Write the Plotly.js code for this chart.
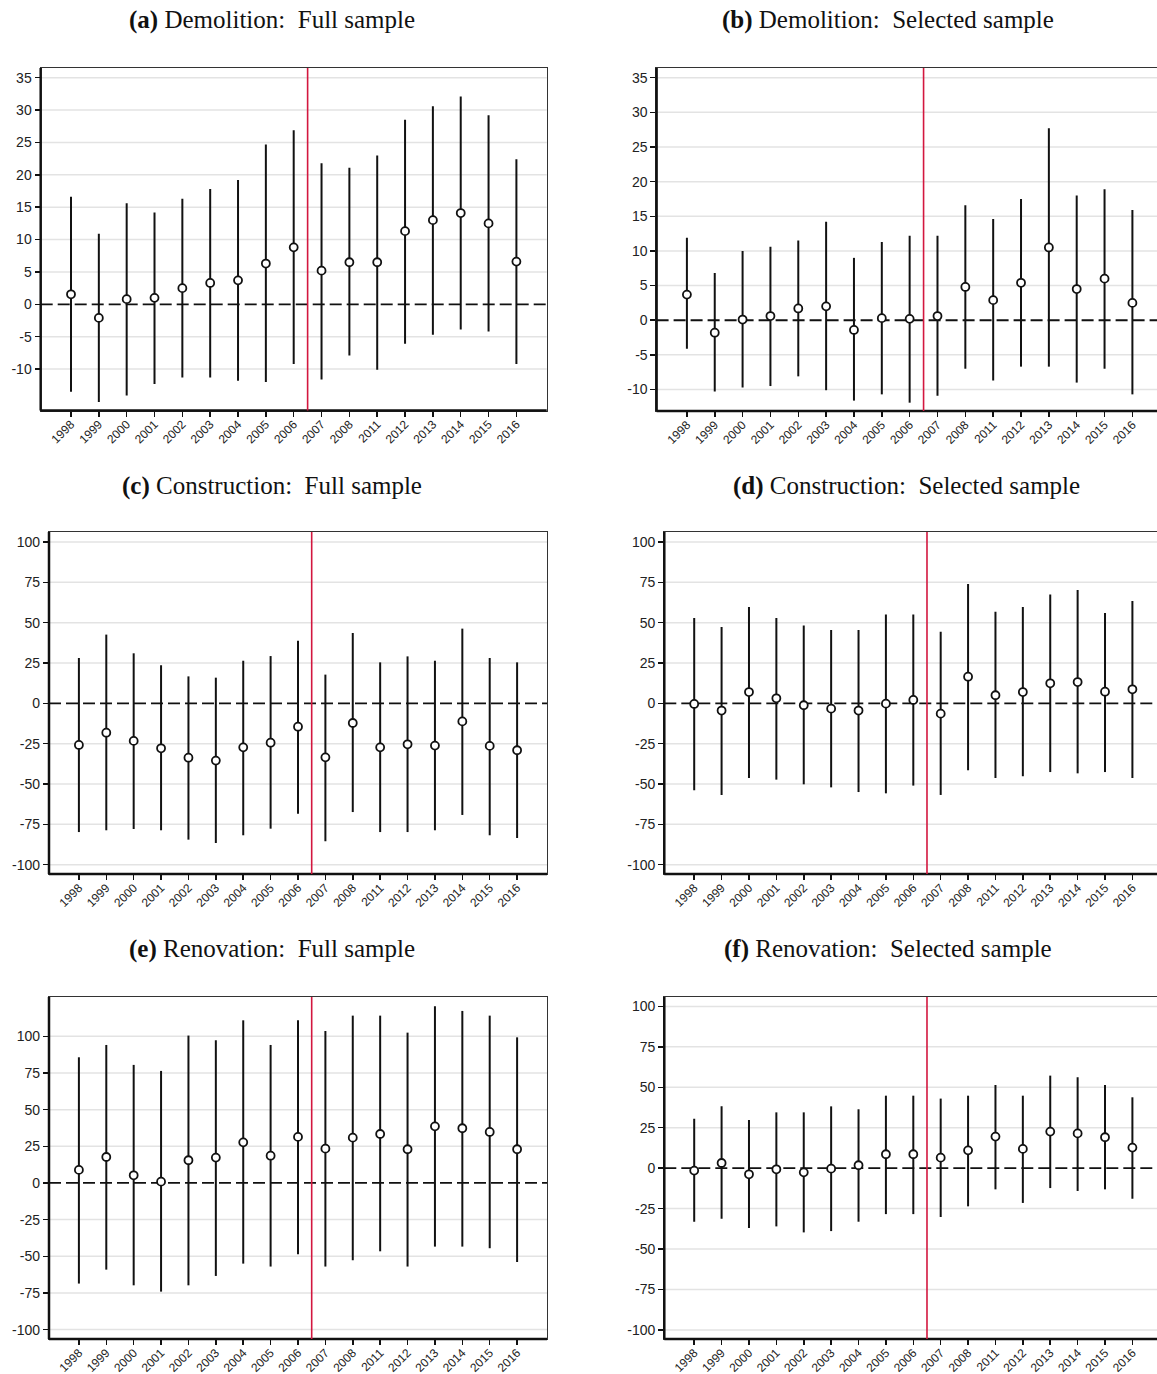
<!DOCTYPE html>
<html><head><meta charset="utf-8">
<script src="https://cdn.plot.ly/plotly-3.0.1.min.js"></script>
<style>html,body{margin:0;padding:0;overflow:hidden;background:#fff}</style>
</head><body><div id="chart" style="width:1165px;height:1374px"></div>
<script>
const years = ['1998','1999','2000','2001','2002','2003','2004','2005','2006','2007','2008','2011','2012','2013','2014','2015','2016'];

// (a) Demolition: Full sample
const demoFullEst = [1.55,-2.1,0.8,1.0,2.5,3.3,3.7,6.3,8.8,5.2,6.5,6.5,11.3,13.0,14.1,12.5,6.6];
const demoFullLo  = [-13.5,-15.1,-14.1,-12.3,-11.3,-11.3,-11.8,-12.0,-9.2,-11.6,-7.9,-10.1,-6.1,-4.7,-3.9,-4.2,-9.2];
const demoFullHi  = [16.6,10.9,15.6,14.2,16.3,17.8,19.2,24.7,26.9,21.8,21.1,23.0,28.5,30.6,32.1,29.2,22.4];

// (b) Demolition: Selected sample
const demoSelEst = [3.7,-1.8,0.1,0.6,1.7,2.0,-1.4,0.3,0.2,0.6,4.8,2.9,5.4,10.5,4.5,6.0,2.5];
const demoSelLo  = [-4.1,-10.3,-9.7,-9.5,-8.1,-10.1,-11.6,-10.7,-11.9,-10.9,-7.0,-8.7,-6.7,-6.7,-9.0,-7.0,-10.7];
const demoSelHi  = [11.9,6.8,10.0,10.6,11.5,14.2,9.0,11.3,12.2,12.2,16.6,14.6,17.5,27.7,18.0,18.9,15.9];

// (c) Construction: Full sample
const consFullEst = [-25.8,-18.2,-23.3,-27.9,-33.7,-35.5,-27.3,-24.4,-14.5,-33.5,-12.2,-27.3,-25.4,-26.2,-11.2,-26.4,-29.1];
const consFullLo  = [-79.8,-78.7,-77.9,-78.7,-84.5,-86.6,-81.8,-77.7,-68.4,-85.5,-67.4,-79.8,-79.8,-78.7,-69.2,-81.8,-83.5];
const consFullHi  = [28.1,42.6,31.0,23.6,16.7,15.9,26.4,29.3,38.8,17.8,43.6,25.4,29.1,26.4,46.3,28.1,25.4];

// (d) Construction: Selected sample
const consSelEst = [-0.4,-4.5,7.0,3.1,-1.2,-3.3,-4.5,-0.2,2.1,-6.4,16.5,5.0,7.0,12.4,13.2,7.2,8.7];
const consSelLo  = [-53.9,-56.8,-46.3,-47.3,-50.2,-52.1,-55.0,-55.8,-51.0,-56.8,-41.5,-46.3,-45.2,-42.6,-43.4,-42.6,-46.3];
const consSelHi  = [52.9,47.3,59.7,52.9,48.3,45.5,45.5,55.0,55.0,44.4,74.0,56.8,59.7,67.4,70.2,56.0,63.4];

// (e) Renovation: Full sample
const renoFullEst = [8.9,17.7,5.2,0.9,15.5,17.3,27.7,18.6,31.4,23.4,30.9,33.4,23.0,38.6,37.3,34.8,23.0];
const renoFullLo  = [-68.6,-59.1,-69.8,-74.1,-69.8,-63.4,-55.0,-57.0,-48.6,-57.0,-52.7,-46.6,-57.0,-43.4,-43.4,-44.5,-53.9];
const renoFullHi  = [85.7,94.1,80.5,76.4,100.5,97.3,110.9,94.1,110.9,103.6,114.1,114.1,102.5,120.5,117.3,114.1,99.3];

// (f) Renovation: Selected sample
const renoSelEst = [-1.5,3.2,-3.8,-0.7,-2.6,-0.3,1.8,8.6,8.6,6.5,11.0,19.5,11.9,22.6,21.5,19.1,12.7];
const renoSelLo  = [-33.1,-31.2,-37.0,-36.0,-39.7,-38.9,-33.1,-28.4,-28.4,-30.2,-23.6,-13.1,-21.5,-12.3,-14.1,-13.1,-18.9];
const renoSelHi  = [30.6,38.2,29.8,34.5,34.5,38.2,36.4,44.8,44.8,43.0,44.8,51.4,44.8,57.2,56.2,51.4,43.8];

const titles = ['(a)','Demolition:  Full sample','(b)','Demolition:  Selected sample','(c)','Construction:  Full sample','(d)','Construction:  Selected sample','(e)','Renovation:  Full sample','(f)','Renovation:  Selected sample'];
const smallTicks = [-10,-5,0,5,10,15,20,25,30,35];
const bigTicks = [-100,-75,-50,-25,0,25,50,75,100];

const W = 1165, H = 1374;
const panels = [
  {est:demoFullEst, lo:demoFullLo, hi:demoFullHi, xd:[40.7,546.7], yd:[68,410.5], range:[-16.4,36.5], ticks:smallTicks, t:0, tx:272, ty:20},
  {est:demoSelEst, lo:demoSelLo, hi:demoSelHi, xd:[656.6,1162.7], yd:[68,411], range:[-13.1,36.4], ticks:smallTicks, t:1, tx:888, ty:20},
  {est:consFullEst, lo:consFullLo, hi:consFullHi, xd:[49,547], yd:[532,874], range:[-105.8,106.2], ticks:bigTicks, t:2, tx:272, ty:486},
  {est:consSelEst, lo:consSelLo, hi:consSelHi, xd:[664.3,1162.3], yd:[532,874], range:[-105.8,106.2], ticks:bigTicks, t:3, tx:906, ty:486},
  {est:renoFullEst, lo:renoFullLo, hi:renoFullHi, xd:[49,547], yd:[997,1339], range:[-106.4,126.8], ticks:bigTicks, t:4, tx:272, ty:949},
  {est:renoSelEst, lo:renoSelLo, hi:renoSelHi, xd:[664.3,1162.3], yd:[997,1339], range:[-105.6,105.8], ticks:bigTicks, t:5, tx:888, ty:949}
];

const data = [];
const layout = {
  width: W, height: H, margin:{l:0,r:0,t:0,b:0},
  paper_bgcolor:'#fff', plot_bgcolor:'#fff', showlegend:false,
  font:{family:'Liberation Sans, Arial, sans-serif', size:14, color:'#222'},
  shapes:[], annotations:[]
};

panels.forEach((p, i) => {
  const n = i + 1;
  const xa = 'x' + (n === 1 ? '' : n), ya = 'y' + (n === 1 ? '' : n);
  const xk = 'xaxis' + (n === 1 ? '' : n), yk = 'yaxis' + (n === 1 ? '' : n);
  data.push({
    type:'scatter', mode:'markers', x:years, y:p.est, xaxis:xa, yaxis:ya,
    marker:{symbol:'circle', size:8, color:'#fff', line:{color:'#111', width:1.8}},
    error_y:{type:'data', symmetric:false,
      array:p.hi.map((h,k)=>h-p.est[k]), arrayminus:p.est.map((e,k)=>e-p.lo[k]),
      width:0, thickness:2, color:'#111'},
    hoverinfo:'skip', cliponaxis:false
  });
  layout[xk] = {
    domain:[p.xd[0]/W, p.xd[1]/W], anchor:ya, type:'category',
    tickangle:-45, ticks:'outside', ticklen:5, tickwidth:1.5, tickcolor:'#111',
    ticklabelstandoff:-4,
    showline:true, mirror:true, linecolor:'#333', linewidth:1.2,
    showgrid:false, zeroline:false, fixedrange:true,
    tickfont:{size:12, color:'#222'}
  };
  layout[yk] = {
    domain:[1 - p.yd[1]/H, 1 - p.yd[0]/H], anchor:xa, range:p.range,
    tickmode:'array', tickvals:p.ticks, ticktext:p.ticks.map(String),
    ticks:'outside', ticklen:5, tickwidth:1.5, tickcolor:'#111',
    showline:true, mirror:true, linecolor:'#333', linewidth:1.2,
    showgrid:false, zeroline:false, fixedrange:true,
    tickfont:{size:14, color:'#222'}
  };
  // light horizontal gridlines at the nonzero ticks
  p.ticks.filter(v => v !== 0).forEach(v => {
    layout.shapes.push({type:'line', xref:xa+' domain', yref:ya, x0:0, x1:1, y0:v, y1:v, layer:'below', line:{color:'#e3e3e3', width:1.5}});
  });
  // zero reference line
  layout.shapes.push({type:'line', xref:xa+' domain', yref:ya, x0:0, x1:1, y0:0, y1:0, layer:'below', line:{color:'#111', width:1.8, dash:'12px,5px'}});
  // thick left and bottom axes
  layout.shapes.push({type:'line', xref:xa+' domain', yref:ya+' domain', x0:0, x1:0, y0:0, y1:1, line:{color:'#111', width:2.5}});
  layout.shapes.push({type:'line', xref:xa+' domain', yref:ya+' domain', x0:0, x1:1, y0:0, y1:0, line:{color:'#111', width:2.5}});
  // policy break line between 2006 and 2007
  layout.shapes.push({type:'line', xref:xa, yref:ya+' domain', x0:8.5, x1:8.5, y0:0, y1:1, line:{color:'#d3173f', width:1.6}});
  layout.annotations.push({
    xref:'paper', yref:'paper', x:p.tx/W, y:1 - p.ty/H, xanchor:'center', yanchor:'middle', showarrow:false,
    text:'<b>' + titles[p.t*2] + '</b> ' + titles[p.t*2+1],
    font:{family:'Liberation Serif, Times New Roman, serif', size:25, color:'#111'}
  });
});

Plotly.newPlot('chart', data, layout, {staticPlot:true, displayModeBar:false});
</script>
</body></html>
